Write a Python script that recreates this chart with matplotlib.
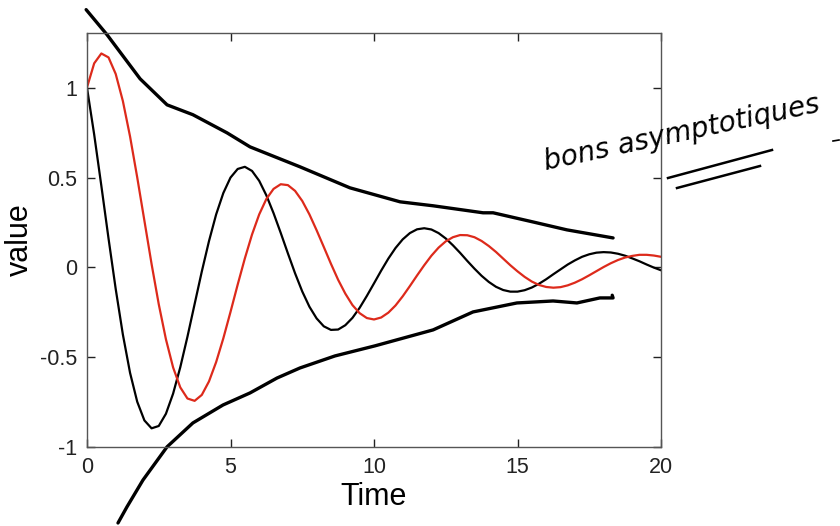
import matplotlib
matplotlib.use("Agg")
import matplotlib.pyplot as plt
from matplotlib.lines import Line2D

plt.rcParams['font.family'] = ['Liberation Sans', 'DejaVu Sans']

# Time grid (step 0.25)
time = [i * 0.25 for i in range(81)]

black_vals = [1.000, 0.740, 0.454, 0.161, -0.120, -0.374, -0.587, -0.748, -0.852, -0.896,
              -0.883, -0.815, -0.703, -0.556, -0.386, -0.204, -0.023, 0.146, 0.295, 0.414,
              0.500, 0.548, 0.560, 0.537, 0.482, 0.401, 0.302, 0.192, 0.078, -0.033,
              -0.134, -0.219, -0.284, -0.328, -0.348, -0.346, -0.322, -0.281, -0.225, -0.159,
              -0.089, -0.018, 0.049, 0.108, 0.156, 0.191, 0.212, 0.218, 0.211, 0.191,
              0.161, 0.123, 0.081, 0.036, -0.007, -0.047, -0.081, -0.108, -0.126, -0.135,
              -0.135, -0.127, -0.112, -0.091, -0.066, -0.038, -0.011, 0.016, 0.039, 0.059,
              0.073, 0.082, 0.085, 0.083, 0.076, 0.065, 0.050, 0.034, 0.016, -0.001, -0.016]

red_vals = [1.002, 1.136, 1.191, 1.169, 1.077, 0.926, 0.729, 0.501, 0.260, 0.019,
            -0.205, -0.400, -0.557, -0.668, -0.730, -0.743, -0.710, -0.635, -0.527, -0.395,
            -0.248, -0.096, 0.050, 0.183, 0.295, 0.381, 0.437, 0.463, 0.458, 0.426,
            0.370, 0.295, 0.207, 0.114, 0.020, -0.069, -0.146, -0.210, -0.255, -0.282,
            -0.290, -0.279, -0.252, -0.212, -0.161, -0.104, -0.045, 0.012, 0.065, 0.110,
            0.145, 0.168, 0.180, 0.179, 0.168, 0.147, 0.119, 0.086, 0.049, 0.012,
            -0.022, -0.053, -0.079, -0.098, -0.109, -0.113, -0.110, -0.100, -0.085, -0.066,
            -0.044, -0.021, 0.002, 0.023, 0.041, 0.055, 0.064, 0.070, 0.070, 0.066, 0.059]

# Hand-drawn envelope strokes
upper_x = [-0.03, 0.70, 1.85, 2.79, 3.69, 4.88, 5.68, 7.42, 9.16, 10.91, 12.06, 13.80, 14.15, 15.54, 16.72, 18.33]
upper_y = [1.435, 1.295, 1.050, 0.905, 0.850, 0.749, 0.671, 0.560, 0.443, 0.365, 0.343, 0.304, 0.304, 0.253, 0.209, 0.164]
lower_x = [1.08, 1.39, 1.95, 2.79, 3.69, 4.74, 5.68, 6.62, 7.42, 8.64, 10.03, 12.06, 13.45, 14.98, 16.24, 17.07, 17.87, 18.33, 18.30]
lower_y = [-1.423, -1.334, -1.184, -0.999, -0.866, -0.766, -0.699, -0.616, -0.560, -0.493, -0.437, -0.348, -0.248, -0.198, -0.187, -0.198, -0.170, -0.170, -0.155]

xticks = [0, 5, 10, 15, 20]
yticks = [-1, -0.5, 0, 0.5, 1]
ytick_labels = ['-1', '-0.5', '0', '0.5', '1']

fig = plt.figure(figsize=(8.4, 5.26), dpi=100)
ax = fig.add_axes([87 / 840, 1 - 447 / 526, (661 - 87) / 840, (447 - 33) / 526])

ax.plot(time, black_vals, color='black', lw=1.6)
ax.plot(time, red_vals, color='#dd2a1b', lw=1.6)
ax.plot(upper_x, upper_y, color='black', lw=2.4, clip_on=False, solid_capstyle='round', solid_joinstyle='round')
ax.plot(lower_x, lower_y, color='black', lw=2.4, clip_on=False, solid_capstyle='round', solid_joinstyle='round')

ax.set_xlim(0, 20)
ax.set_ylim(-1, 1.305)
ax.set_xticks(xticks)
ax.set_xticklabels([str(v) for v in xticks])
ax.set_yticks(yticks)
ax.set_yticklabels(ytick_labels)
ax.tick_params(direction='in', top=True, right=True, length=6, width=1, labelsize=15.5, colors='#222222', pad=7)
for s in ax.spines.values():
    s.set_color('#555555')
    s.set_linewidth(1.0)

ax.set_xlabel('Time', fontsize=22, labelpad=3)
ax.set_ylabel('value', fontsize=22, labelpad=4)

# Handwritten annotation
fig.text(546 / 840, 1 - 170 / 526, 'bons asymptotiques', fontsize=20, rotation=12,
         family=['DejaVu Sans'], fontstyle='italic', color='black',
         ha='left', va='baseline', rotation_mode='anchor')
fig.add_artist(Line2D([668 / 840, 772 / 840], [1 - 178 / 526, 1 - 150 / 526], color='black', lw=1.8))
fig.add_artist(Line2D([677 / 840, 760 / 840], [1 - 188 / 526, 1 - 166 / 526], color='black', lw=1.8))
fig.add_artist(Line2D([833 / 840, 839 / 840], [1 - 141 / 526, 1 - 140 / 526], color='black', lw=1.2))

fig.savefig('out.png', dpi=100)
